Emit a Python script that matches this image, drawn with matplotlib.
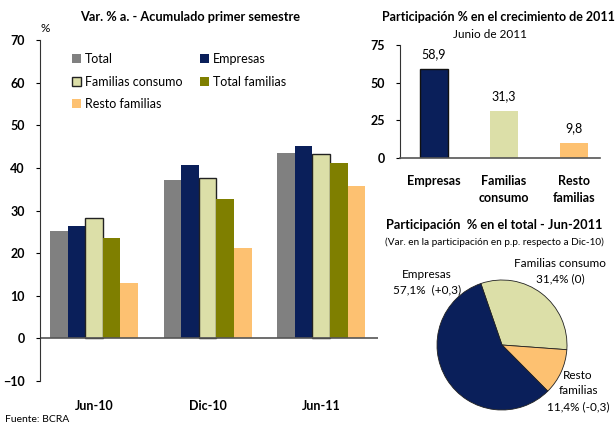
import matplotlib
matplotlib.use("Agg")
import matplotlib.pyplot as plt
import numpy as np

plt.rcParams['font.family'] = ['Lato', 'DejaVu Sans']

# main chart data
periods = ["Jun-10", "Dic-10", "Jun-11"]
series_names = ["Total", "Empresas", "Familias consumo", "Total familias", "Resto familias"]
total = [25.1, 37.1, 43.4]
empresas = [26.3, 40.6, 45.1]
familias_consumo = [28.2, 37.6, 43.2]
total_familias = [23.5, 32.6, 41.1]
resto_familias = [12.9, 21.1, 35.7]

# contribution to growth
contrib_cats = ["Empresas", "Familias\nconsumo", "Resto\nfamilias"]
contrib_vals = [58.9, 31.3, 9.8]
contrib_labels = ["58,9", "31,3", "9,8"]

# share of total
pie_vals = [31.4, 11.4, 57.1]
pie_labels = ["Familias consumo\n31,4% (0)", "Resto\nfamilias\n11,4% (-0,3)", "Empresas\n57,1%  (+0,3)"]

colors = ["#808080", "#0a1f5a", "#dcdfa8", "#7f7f00", "#fdc171"]

fig = plt.figure(figsize=(6.16, 4.25), dpi=100)

# ---- left grouped bar chart
ax = fig.add_axes([40/616, 1-381/425, 338/616, 341/425])
x = np.arange(len(periods))
w = 0.155
all_series = [total, empresas, familias_consumo, total_familias, resto_familias]
bars = []
for i, (vals, name) in enumerate(zip(all_series, series_names)):
    ec = "#222222" if i == 2 else colors[i]
    b = ax.bar(x + (i - 2) * w, vals, width=w, color=colors[i], edgecolor=ec,
               linewidth=1.0 if i == 2 else 0, label=name)
    bars.append(b)
ax.set_xlim(-0.476, 2.5)
ax.set_ylim(-10, 70)
ax.set_yticks(range(-10, 71, 10))
ax.axhline(0, color="#555555", lw=1.2)
for s in ["top", "right", "bottom"]:
    ax.spines[s].set_visible(False)
ax.spines["left"].set_color("#333333")
ax.tick_params(axis="y", direction="out", length=3, labelsize=9, pad=8)
for t in ax.get_yticklabels():
    t.set_fontweight("bold")
ax.set_xticks(x)
ax.set_xticklabels(periods, fontweight="bold", fontsize=9)
ax.tick_params(axis="x", length=0, pad=14)
ax.text(-0.43, 71.5, "%", fontsize=8.5, ha="center", va="bottom")
fig.text(190/616, 1-17/425, "Var. % a. - Acumulado primer semestre", fontweight="bold",
         fontsize=9.2, ha="center", va="center")
# legend filled row by row
order = [0, 2, 4, 1, 3]
ax.legend([bars[i] for i in order], [series_names[i] for i in order],
          ncol=2, loc="upper left", bbox_to_anchor=(0.06, 0.995), frameon=False,
          fontsize=9, handlelength=0.75, handleheight=0.75, handletextpad=0.3,
          columnspacing=1.4, labelspacing=0.85)
fig.text(5/616, 1-420/425, "Fuente: BCRA", fontsize=7.5, va="center")

# ---- right bar chart
ax2 = fig.add_axes([400/616, 1-158/425, 200/616, 113/425])
xc = np.arange(len(contrib_cats))
ax2.bar(xc, contrib_vals, width=0.41, color=[colors[1], colors[2], colors[4]],
        edgecolor=["#111111", colors[2], colors[4]], linewidth=[1.0, 0, 0])
for xi, v, lab in zip(xc, contrib_vals, contrib_labels):
    ax2.text(xi, v + 6, lab, ha="center", va="bottom", fontsize=9)
ax2.set_xlim(-0.486, 2.37)
ax2.set_ylim(0, 75)
ax2.set_yticks([0, 25, 50, 75])
for s in ["top", "right"]:
    ax2.spines[s].set_visible(False)
ax2.spines["left"].set_color("#333333")
ax2.spines["bottom"].set_color("#555555")
ax2.spines["bottom"].set_linewidth(1.2)
ax2.tick_params(axis="y", direction="out", length=3, labelsize=9, pad=8)
for t in ax2.get_yticklabels():
    t.set_fontweight("bold")
ax2.set_xticks(xc)
ax2.set_xticklabels(contrib_cats, fontweight="bold", fontsize=9, linespacing=1.5)
ax2.tick_params(axis="x", length=0, pad=12)
fig.text(498/616, 1-17/425, "Participación % en el crecimiento de 2011", fontweight="bold",
         fontsize=9, ha="center", va="center")
fig.text(490/616, 1-34/425, "Junio de 2011", fontsize=8.5, ha="center", va="center")

# ---- pie
ax3 = fig.add_axes([437/616, 15/425, 130/616, 130/425])
ax3.pie(pie_vals, colors=[colors[2], colors[4], colors[1]], startangle=109,
        counterclock=False, wedgeprops=dict(edgecolor="#222222", linewidth=0.6))
ax3.set_xlim(-1, 1)
ax3.set_ylim(-1, 1)
ax3.set_aspect("equal")
fig.text(494/616, 1-225/425, "Participación  % en el total - Jun-2011", fontweight="bold",
         fontsize=9.2, ha="center", va="center")
fig.text(494/616, 1-242/425, "(Var. en la participación en p.p. respecto a Dic-10)",
         fontsize=7.2, ha="center", va="center")
fig.text(427/616, 1-282/425, pie_labels[2], fontsize=8.5, ha="center", va="center", linespacing=1.5)
fig.text(560/616, 1-271/425, pie_labels[0], fontsize=8.5, ha="center", va="center", linespacing=1.5)
fig.text(578/616, 1-391/425, pie_labels[1], fontsize=8.5, ha="center", va="center", linespacing=1.5)

fig.savefig("out.png", dpi=100)
